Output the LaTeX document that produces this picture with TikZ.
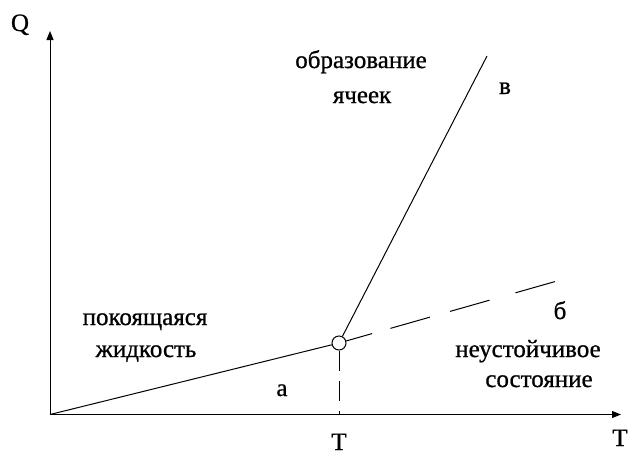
\documentclass[tikz,border=0pt]{standalone}
\usepackage{fontspec}
\setmainfont{Liberation Serif}[FakeBold=0.8]
\usetikzlibrary{arrows.meta}
\begin{document}
\begin{tikzpicture}[x=1pt,y=-1pt,
  axis/.style={line width=1pt,-{Triangle[length=9pt,width=7pt]}},
  ln/.style={line width=1pt},
  lbl/.style={font=\fontsize{25}{30}\selectfont,inner sep=0pt,anchor=base},
  dashA/.style={ln,dash pattern=on 27pt off 19pt on 41pt off 21pt on 41pt off 27pt on 41pt},
  dashB/.style={ln,dash pattern=on 20pt off 10pt}]
\useasboundingbox (0,0) rectangle (630,456);
\coordinate (O) at (50,414.5);
\coordinate (Ytop) at (50,31);
\coordinate (Xend) at (621,414.5);
\node[circle,draw,line width=1pt,fill=white,minimum size=14pt,inner sep=0pt] (P) at (339,343) {};
\coordinate (V) at (487,56);
\coordinate (D) at (564,279);
\coordinate (Tx) at (339,414.5);
\draw[axis] (O) -- (Ytop);
\draw[axis] (O) -- (Xend);
\draw[ln] (O) -- (P);
\draw[ln] (P) -- (V);
\draw[dashA] (P) -- (D);
\draw[dashB] (P) -- (Tx);
\node[lbl] (q) at (20,31) {Q};
\node[lbl] (t1) at (339,450) {T};
\node[lbl] (t2) at (620,446) {T};
\node[lbl] (obr) at (361,68) {образование};
\node[lbl] (yach) at (362,103) {ячеек};
\node[lbl] (v) at (505,94) {в};
\node[lbl] (pok) at (145,325) {покоящаяся};
\node[lbl] (zhid) at (146,357) {жидкость};
\node[lbl] (a) at (282,396) {а};
\node[lbl] (b) at (560,319) {б};
\node[lbl] (neu) at (528,357) {неустойчивое};
\node[lbl] (sost) at (539,387) {состояние};
\end{tikzpicture}
\end{document}
